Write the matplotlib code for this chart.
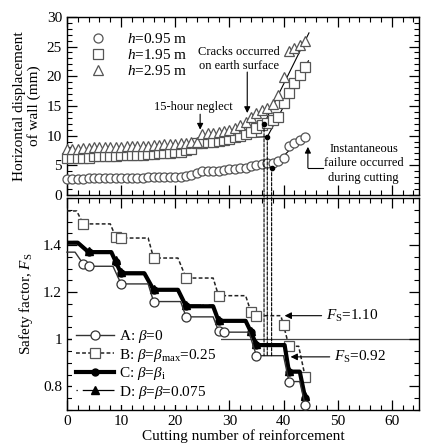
import matplotlib
matplotlib.use("Agg")
import matplotlib.pyplot as plt
from matplotlib.patches import ConnectionPatch
from matplotlib.ticker import MultipleLocator

plt.rcParams["font.family"] = "Liberation Serif"
plt.rcParams["mathtext.fontset"] = "custom"
plt.rcParams["mathtext.rm"] = "Liberation Serif"
plt.rcParams["mathtext.it"] = "Liberation Serif:italic"
plt.rcParams["mathtext.bf"] = "Liberation Serif:bold"
plt.rcParams["font.size"] = 11

# ---- top panel: horizontal displacement of wall (mm) vs cutting number ----
cut_no = list(range(45))
disp_h095 = [2.7, 2.7, 2.7, 2.7, 2.8, 2.8, 2.8, 2.8, 2.8, 2.8,
             2.9, 2.9, 2.9, 2.9, 2.9, 3.0, 3.0, 3.0, 3.0, 3.1,
             3.1, 3.1, 3.2, 3.4, 3.7, 4.0, 4.1, 4.1, 4.1, 4.2,
             4.3, 4.4, 4.5, 4.6, 4.8, 5.0, 5.2, 5.3, 5.4, 5.7,
             6.2, 8.2, 8.8, 9.3, 9.8]
disp_h195 = [6.2, 6.2, 6.2, 6.2, 6.2, 6.5, 6.5, 6.6, 6.6, 6.6,
             6.7, 6.7, 6.7, 6.8, 6.8, 6.9, 6.9, 7.0, 7.0, 7.1,
             7.2, 7.3, 7.5, 7.8, 8.7, 8.8, 8.9, 9.0, 9.1, 9.2,
             9.5, 9.7, 9.9, 10.2, 10.6, 11.2, 11.8, 12.2, 12.7, 13.2,
             15.5, 17.2, 18.8, 20.2, 21.5]
disp_h295 = [7.8, 7.8, 7.8, 7.9, 7.9, 8.0, 8.0, 8.0, 8.1, 8.1,
             8.1, 8.2, 8.2, 8.2, 8.3, 8.3, 8.4, 8.4, 8.5, 8.5,
             8.6, 8.7, 8.8, 8.9, 9.0, 10.3, 10.4, 10.5, 10.6, 10.8,
             11.0, 11.3, 11.7, 12.3, 13.2, 13.8, 14.3, 14.7, 15.3, 16.8,
             19.8, 24.3, 24.8, 25.3, 26.0]
depth_labels = ["$h$=0.95 m", "$h$=1.95 m", "$h$=2.95 m"]

# tangent construction: intersection dots and line ends
dot_x = [36.4, 37.0, 37.8]
dot_y = [12.0, 9.8, 4.6]
rise_end_x = [44.7, 44.6, 41.5]
rise_end_y = [27.3, 22.6, 7.9]
flat_start_x = [None, 34.0, 35.0]
flat_start_y = [None, 9.7, 4.9]
fs_at_dots = 0.93

# ---- bottom panel: safety factor vs cutting number ----
a_x = [0, 1.5, 3, 4, 8.5, 10, 15, 16, 21, 22, 27, 28, 29, 33.6, 35, 40, 41, 43, 44]
a_y = [1.37, 1.37, 1.32, 1.31, 1.31, 1.235, 1.235, 1.16, 1.16, 1.095, 1.095,
       1.035, 1.03, 1.03, 0.93, 0.93, 0.82, 0.82, 0.72]
a_marks = [2, 3, 5, 7, 9, 11, 12, 14, 16, 18]

b_x = [0, 1.8, 3, 8, 9, 10, 15, 16, 20.5, 22, 27, 28, 33, 34, 35, 39.5, 40, 41, 42.8, 44]
b_y = [1.545, 1.545, 1.49, 1.49, 1.435, 1.43, 1.43, 1.345, 1.345, 1.26, 1.26,
       1.185, 1.185, 1.115, 1.10, 1.10, 1.06, 0.97, 0.97, 0.84]
b_marks = [2, 4, 5, 7, 9, 11, 13, 14, 16, 17, 19]

c_x = [0, 2, 4, 8.2, 9, 10, 14.3, 16, 20.5, 22, 27, 28, 33, 34, 35, 40.2, 41, 43, 44]
c_y = [1.41, 1.41, 1.37, 1.37, 1.33, 1.28, 1.28, 1.21, 1.21, 1.14, 1.14,
       1.078, 1.078, 1.03, 0.975, 0.975, 0.862, 0.862, 0.75]
c_marks = [2, 4, 5, 7, 9, 11, 13, 14, 16, 18]

d_x = [0, 2, 4, 8.2, 9, 10, 14.3, 16, 20.5, 22, 27, 28, 33, 34, 35, 40.2, 41, 43, 44]
d_y = [1.415, 1.415, 1.375, 1.375, 1.335, 1.285, 1.285, 1.215, 1.215, 1.145, 1.145,
       1.083, 1.083, 1.035, 0.98, 0.98, 0.867, 0.867, 0.76]
d_marks = [2, 4, 5, 7, 9, 11, 13, 14, 16, 18]

case_labels = [r"A: $\beta$=0",
               r"B: $\beta$=$\beta_{\rm max}$=0.25",
               r"C: $\beta$=$\beta_{\rm i}$",
               r"D: $\beta$=$\beta$=0.075"]
fs_ref = 1.0


def style_axes(ax):
    ax.tick_params(which="both", direction="in", top=True, right=True)
    ax.tick_params(which="major", length=7, width=0.9)
    ax.tick_params(which="minor", length=3.5, width=0.8)
    for sp in ax.spines.values():
        sp.set_linewidth(1.0)


def arrow(ax, x0, y0, x1, y1):
    ax.annotate("", xy=(x1, y1), xytext=(x0, y0),
                arrowprops=dict(arrowstyle="-|>", color="black", lw=0.8,
                                mutation_scale=9, shrinkA=0, shrinkB=0))


fig = plt.figure(figsize=(4.21, 4.44), dpi=100)
ax1 = fig.add_axes([0.159, 0.561, 0.836, 0.401])
ax2 = fig.add_axes([0.159, 0.077, 0.836, 0.477])

# top panel
mk = dict(ls="none", mfc="white", mec="#555555", mew=0.9, clip_on=False, zorder=4)
ax1.plot(cut_no, disp_h095, marker="o", ms=6.5, label=depth_labels[0], **mk)
ax1.plot(cut_no, disp_h195, marker="s", ms=6.5, label=depth_labels[1], **mk)
ax1.plot(cut_no, disp_h295, marker="^", ms=7, label=depth_labels[2], **mk)

for i in range(3):
    ax1.plot([dot_x[i], rise_end_x[i]], [dot_y[i], rise_end_y[i]], color="black", lw=0.8, zorder=3)
    if flat_start_x[i] is not None:
        ax1.plot([flat_start_x[i], dot_x[i]], [flat_start_y[i], dot_y[i]], color="black", lw=0.8, zorder=3)
    ax1.plot(dot_x[i], dot_y[i], "o", color="black", ms=3, zorder=6)
    con = ConnectionPatch(xyA=(dot_x[i], dot_y[i]), coordsA=ax1.transData,
                          xyB=(dot_x[i], fs_at_dots), coordsB=ax2.transData,
                          color="black", lw=0.8, ls=(0, (3, 1.5)), zorder=5)
    fig.add_artist(con)

ax1.set_xlim(0, 65)
ax1.set_ylim(0, 30)
ax1.xaxis.set_major_locator(MultipleLocator(10))
ax1.xaxis.set_minor_locator(MultipleLocator(2))
ax1.yaxis.set_major_locator(MultipleLocator(5))
ax1.yaxis.set_minor_locator(MultipleLocator(1))
ax1.set_xticklabels([])
style_axes(ax1)
ax1.set_ylabel("Horizontal displacement\nof wall (mm)", linespacing=1.1, labelpad=4)
ax1.legend(loc="upper left", bbox_to_anchor=(0.05, 0.95), frameon=False,
           handlelength=1.0, handletextpad=1.4, labelspacing=0.15, borderaxespad=0)

ax1.text(31.8, 22.9, "Cracks occurred\non earth surface", fontsize=9, ha="center",
         va="center", linespacing=1.15)
arrow(ax1, 33.3, 20.7, 33.3, 13.8)
ax1.text(23.3, 14.8, "15-hour neglect", fontsize=9, ha="center", va="center")
arrow(ax1, 24.6, 13.6, 24.6, 11.0)
ax1.text(54.8, 5.3, "Instantaneous\nfailure occurred\nduring cutting", fontsize=9,
         ha="center", va="center", linespacing=1.25)
ax1.plot([47.3, 44.5], [4.55, 4.55], color="black", lw=0.8)
arrow(ax1, 44.5, 4.55, 44.5, 8.1)

# bottom panel
ax2.axhline(fs_ref, color="#444444", lw=0.9, zorder=1)
ax2.plot(a_x, a_y, color="#333333", lw=1.0, marker="o", ms=6.5, mfc="white",
         mec="#333333", mew=0.9, markevery=a_marks, label=case_labels[0], zorder=4, clip_on=False)
ax2.plot(b_x, b_y, color="#222222", lw=1.1, ls=(0, (2.5, 1.5)), marker="s", ms=6.5,
         mfc="white", mec="#555555", mew=0.9, markevery=b_marks, label=case_labels[1], zorder=3)
ax2.plot(c_x, c_y, color="black", lw=3.0, marker="o", ms=5, mfc="black", mec="black",
         markevery=c_marks, label=case_labels[2], zorder=3)
ax2.plot(d_x, d_y, color="black", lw=0.9, ls=(0, (1, 4, 40, 1)), marker="^", ms=5.5,
         mfc="black", mec="black", markevery=d_marks, label=case_labels[3], zorder=3)

ax2.set_xlim(0, 65)
ax2.set_ylim(0.7, 1.6)
ax2.xaxis.set_major_locator(MultipleLocator(10))
ax2.xaxis.set_minor_locator(MultipleLocator(2))
ax2.yaxis.set_major_locator(MultipleLocator(0.2))
ax2.yaxis.set_minor_locator(MultipleLocator(0.05))
ax2.set_yticks([0.8, 1.0, 1.2, 1.4])
ax2.set_yticklabels(["0.8", "1", "1.2", "1.4"])
style_axes(ax2)
ax2.set_xlabel("Cutting number of reinforcement", labelpad=1)
ax2.set_ylabel(r"Safety factor, $F_{\rm S}$", labelpad=6)
leg = ax2.legend(loc="lower left", bbox_to_anchor=(0.0, 0.0), frameon=True,
                 facecolor="white", edgecolor="none", framealpha=1.0, fancybox=False,
                 handlelength=2.5, handletextpad=0.3, labelspacing=0.1,
                 borderpad=0.3, borderaxespad=0.3)
leg.set_zorder(2)

ax2.annotate(r"$F_{\rm S}$=1.10", xy=(40.2, 1.10), xytext=(47.8, 1.10), ha="left",
             va="center", fontsize=11,
             arrowprops=dict(arrowstyle="-|>", color="black", lw=0.8,
                             mutation_scale=10, shrinkA=1, shrinkB=0))
ax2.annotate(r"$F_{\rm S}$=0.92", xy=(41.3, 0.925), xytext=(49.3, 0.925), ha="left",
             va="center", fontsize=11,
             arrowprops=dict(arrowstyle="-|>", color="black", lw=0.8,
                             mutation_scale=10, shrinkA=1, shrinkB=0))

fig.savefig("out.png", dpi=100)
